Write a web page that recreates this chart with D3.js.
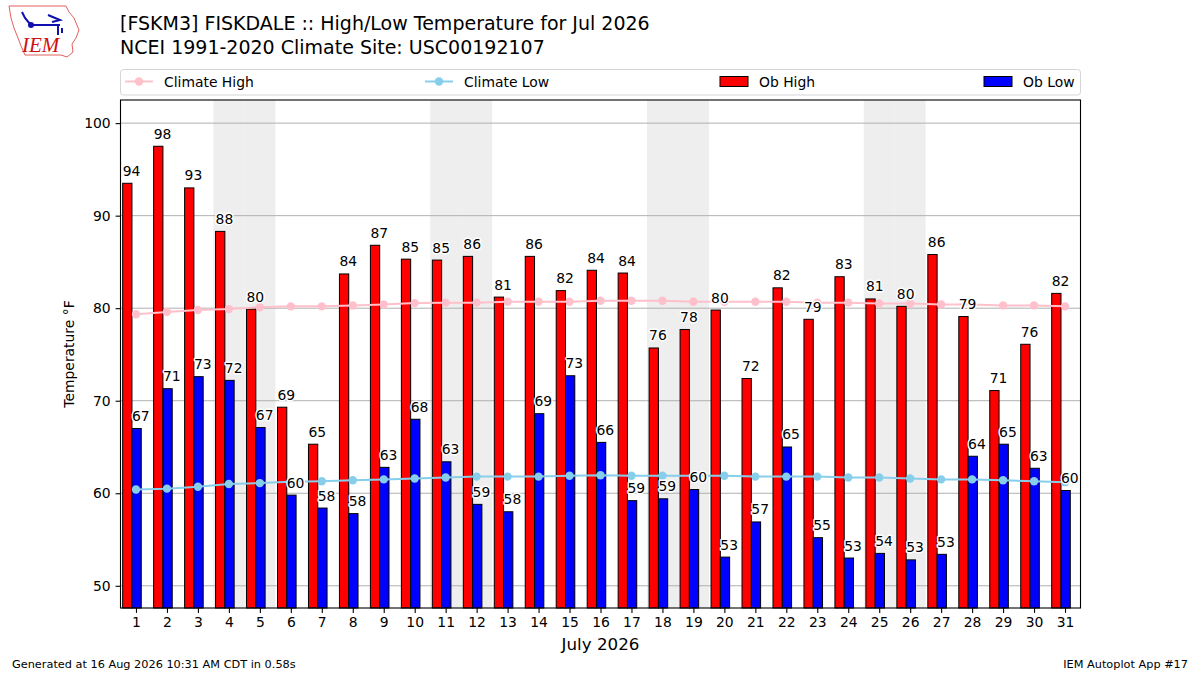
<!DOCTYPE html>
<html>
<head>
<meta charset="utf-8">
<script src="https://cdn.jsdelivr.net/npm/d3@7"></script>
<style>
body { margin: 0; background: #fff; }
text { font-family: "DejaVu Sans", sans-serif; }
</style>
</head>
<body>
<script>
// July 2026 observations for FSKM3, plus NCEI 1991-2020 climate
const days = d3.range(1, 32)
const obHigh = [93.5, 97.5, 93.0, 88.3, 79.9, 69.3, 65.3, 83.7, 86.8, 85.3, 85.2, 85.6, 81.2, 85.6, 81.9, 84.1,
  83.8, 75.7, 77.7, 79.8, 72.4, 82.2, 78.8, 83.4, 81.0, 80.2, 85.8, 79.1, 71.1, 76.1, 81.6]
const obLow = [67.0, 71.3, 72.6, 72.2, 67.1, 59.8, 58.4, 57.8, 62.8, 68.0, 63.4, 58.8, 58.0, 68.6, 72.7, 65.5,
  59.2, 59.4, 60.4, 53.1, 56.9, 65.0, 55.2, 53.0, 53.5, 52.8, 53.4, 64.0, 65.3, 62.7, 60.3]
const climHigh = [79.35, 79.6, 79.8, 79.9, 80.1, 80.2, 80.2, 80.3, 80.4, 80.55, 80.6, 80.6, 80.7, 80.7, 80.7, 80.8,
  80.8, 80.8, 80.7, 80.7, 80.7, 80.7, 80.6, 80.6, 80.5, 80.5, 80.4, 80.4, 80.3, 80.3, 80.2]
const climLow = [60.4, 60.5, 60.7, 61.0, 61.1, 61.25, 61.3, 61.4, 61.5, 61.6, 61.7, 61.8, 61.8, 61.8, 61.9, 61.95,
  61.9, 61.9, 61.9, 61.9, 61.8, 61.8, 61.8, 61.7, 61.7, 61.6, 61.5, 61.5, 61.4, 61.3, 61.2]
const weekends = [4, 5, 11, 12, 18, 19, 25, 26]
const yTicks = [50, 60, 70, 80, 90, 100]

const width = 1200
const height = 675
const svg = d3.select('body').append('svg')
  .attr('width', width)
  .attr('height', height)

const pLeft = 120.5, pRight = 1080.5, pTop = 100, pBottom = 608
const x = d3.scaleLinear().domain([0.5, 31.5]).range([pLeft, pRight])
const y = d3.scaleLinear().domain([47.6, 102.5]).range([pBottom, pTop])
const bw = x(0.3) - x(0)

// logo (rough IEM mark)
const logo = svg.append('g')
logo.append('path')
  .attr('d', 'M9,6 L66,6 L69,12 L74,18 L79,30 L76,38 L72,44 L73,52 L67,57 L61,55 L25,55 L21,46 L18,38 L14,28 L11,18 Z')
  .attr('fill', 'none').attr('stroke', '#e06060').attr('stroke-width', 1)
logo.append('line').attr('x1', 30).attr('y1', 25).attr('x2', 60).attr('y2', 25)
  .attr('stroke', '#1010b0').attr('stroke-width', 2)
logo.append('circle').attr('cx', 31).attr('cy', 25).attr('r', 3).attr('fill', '#1010b0')
logo.append('path').attr('d', 'M22,12 L25,18 L30,24 M48,15 L60,20 L52,22 M58,25 L58,35 M62,28 L62,33')
  .attr('fill', 'none').attr('stroke', '#1010b0').attr('stroke-width', 2)
logo.append('text').attr('x', 22).attr('y', 52)
  .style('font-family', '"Liberation Serif", serif').style('font-style', 'italic')
  .attr('font-size', 21).attr('fill', '#d01010').text('IEM')

// titles
svg.append('text').attr('x', 120).attr('y', 30).attr('font-size', 19)
  .text('[FSKM3] FISKDALE :: High/Low Temperature for Jul 2026')
svg.append('text').attr('x', 120).attr('y', 53.5).attr('font-size', 19)
  .text('NCEI 1991-2020 Climate Site: USC00192107')

// weekend shading
svg.append('g').selectAll('rect').data(weekends).enter().append('rect')
  .attr('x', d => x(d - 0.5))
  .attr('width', x(1) - x(0))
  .attr('y', pTop).attr('height', pBottom - pTop)
  .attr('fill', '#eeeeee')

// grid
svg.append('g').selectAll('line').data(yTicks).enter().append('line')
  .attr('x1', pLeft).attr('x2', pRight)
  .attr('y1', d => y(d)).attr('y2', d => y(d))
  .attr('stroke', '#b0b0b0').attr('stroke-width', 1)

const plot = svg.append('g')
const highData = days.map((d, i) => ({ d: d, v: obHigh[i] }))
const lowData = days.map((d, i) => ({ d: d, v: obLow[i] }))

plot.selectAll('rect.hi').data(highData).enter().append('rect')
  .attr('class', 'hi')
  .attr('x', d => x(d.d - 0.43)).attr('width', bw)
  .attr('y', d => y(d.v)).attr('height', d => pBottom - y(d.v))
  .attr('fill', '#ff0000').attr('stroke', '#000').attr('stroke-width', 1)

plot.selectAll('rect.lo').data(lowData).enter().append('rect')
  .attr('class', 'lo')
  .attr('x', d => x(d.d - 0.13)).attr('width', bw)
  .attr('y', d => y(d.v)).attr('height', d => pBottom - y(d.v))
  .attr('fill', '#0000ff').attr('stroke', '#000').attr('stroke-width', 1)

// climate lines
const line = d3.line().x((d, i) => x(days[i])).y(d => y(d))
function climSeries(vals, color) {
  plot.append('path').datum(vals)
    .attr('d', line).attr('fill', 'none')
    .attr('stroke', color).attr('stroke-width', 2)
  plot.append('g').selectAll('circle').data(vals).enter().append('circle')
    .attr('cx', (d, i) => x(days[i])).attr('cy', d => y(d))
    .attr('r', 4.2).attr('fill', color)
}
climSeries(climHigh, '#ffc0cb')
climSeries(climLow, '#87ceeb')

// value labels
function labels(data, off) {
  plot.append('g').selectAll('text').data(data).enter().append('text')
    .attr('x', d => x(d.d + off))
    .attr('y', d => y(d.v) - 7.5)
    .attr('font-size', 13.9)
    .attr('stroke', '#fff').attr('stroke-width', 3).attr('paint-order', 'stroke')
    .attr('stroke-linejoin', 'round')
    .text(d => Math.round(d.v))
}
labels(highData, -0.43)
labels(lowData, -0.13)

// frame
svg.append('rect').attr('x', pLeft).attr('y', pTop)
  .attr('width', pRight - pLeft).attr('height', pBottom - pTop)
  .attr('fill', 'none').attr('stroke', '#000').attr('stroke-width', 1.1)

// axes
const xAxis = svg.append('g').attr('transform', `translate(0,${pBottom})`)
  .call(d3.axisBottom(x).tickValues(days).tickSize(4.9).tickPadding(4.5).tickFormat(d3.format('d')))
const yAxis = svg.append('g').attr('transform', `translate(${pLeft},0)`)
  .call(d3.axisLeft(y).tickValues(yTicks).tickSize(4.9).tickPadding(4.9))
for (const a of [xAxis, yAxis]) {
  a.select('.domain').remove()
  a.selectAll('text').attr('font-size', 13.9).attr('fill', '#000')
    .style('font-family', '"DejaVu Sans", sans-serif')
  a.selectAll('line').attr('stroke', '#000').attr('stroke-width', 1.1)
}

svg.append('text').attr('x', (pLeft + pRight) / 2).attr('y', 650)
  .attr('text-anchor', 'middle').attr('font-size', 16.7).text('July 2026')
svg.append('text').attr('transform', 'translate(74,354) rotate(-90)')
  .attr('text-anchor', 'middle').attr('font-size', 13.9).text('Temperature °F')

// legend
const lg = svg.append('g')
lg.append('rect').attr('x', 120.5).attr('y', 69.5).attr('width', 960).attr('height', 25.5)
  .attr('rx', 3).attr('fill', '#fff').attr('stroke', '#d5d5d5')
const legendItems = [
  { name: 'Climate High', color: '#ffc0cb', type: 'line', x: 125 },
  { name: 'Climate Low', color: '#87ceeb', type: 'line', x: 425 },
  { name: 'Ob High', color: '#ff0000', type: 'bar', x: 720 },
  { name: 'Ob Low', color: '#0000ff', type: 'bar', x: 984 }
]
legendItems.forEach(it => {
  const g = lg.append('g')
  if (it.type === 'line') {
    g.append('line').attr('x1', it.x).attr('x2', it.x + 28).attr('y1', 81.5).attr('y2', 81.5)
      .attr('stroke', it.color).attr('stroke-width', 2)
    g.append('circle').attr('cx', it.x + 14).attr('cy', 81.5).attr('r', 4.2).attr('fill', it.color)
  } else {
    g.append('rect').attr('x', it.x).attr('y', 76.5).attr('width', 28).attr('height', 10)
      .attr('fill', it.color).attr('stroke', '#000').attr('stroke-width', 1)
  }
  g.append('text').attr('x', it.x + 39).attr('y', 86.5).attr('font-size', 13.9).text(it.name)
})

// footer
svg.append('text').attr('x', 12).attr('y', 668).attr('font-size', 11.3)
  .text('Generated at 16 Aug 2026 10:31 AM CDT in 0.58s')
svg.append('text').attr('x', 1188).attr('y', 668).attr('font-size', 11.3).attr('text-anchor', 'end')
  .text('IEM Autoplot App #17')
</script>
</body>
</html>
